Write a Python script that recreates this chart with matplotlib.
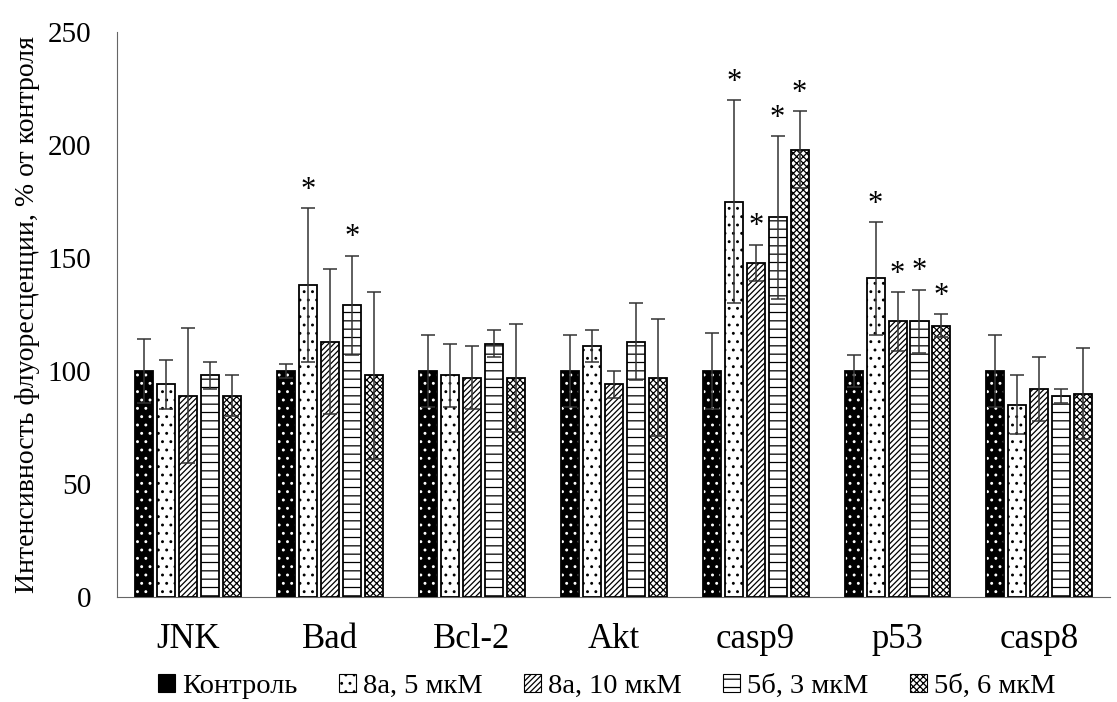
import matplotlib
matplotlib.use("Agg")
import matplotlib.pyplot as plt
import numpy as np
from matplotlib.patches import Patch

plt.rcParams['font.family'] = ['Liberation Serif', 'DejaVu Serif']
plt.rcParams['hatch.linewidth'] = 0.9

categories = ["JNK", "Bad", "Bcl-2", "Akt", "casp9", "p53", "casp8"]
series_names = ["Контроль", "8а, 5 мкМ", "8а, 10 мкМ", "5б, 3 мкМ", "5б, 6 мкМ"]

control = [100, 100, 100, 100, 100, 100, 100]
s8a_5 = [94, 138, 98, 111, 175, 141, 85]
s8a_10 = [89, 113, 97, 94, 148, 122, 92]
s5b_3 = [98, 129, 112, 113, 168, 122, 89]
s5b_6 = [89, 98, 97, 97, 198, 120, 90]

err_control = [14, 3, 16, 16, 17, 7, 16]
err_8a_5 = [11, 34, 14, 7, 45, 25, 13]
err_8a_10 = [30, 32, 14, 6, 8, 13, 14]
err_5b_3 = [6, 22, 6, 17, 36, 14, 3]
err_5b_6 = [9, 37, 24, 26, 17, 5, 20]

# significance markers (1 = asterisk)
sig_8a_5 = [0, 1, 0, 0, 1, 1, 0]
sig_8a_10 = [0, 0, 0, 0, 1, 1, 0]
sig_5b_3 = [0, 1, 0, 0, 1, 1, 0]
sig_5b_6 = [0, 0, 0, 0, 1, 1, 0]

values = [control, s8a_5, s8a_10, s5b_3, s5b_6]
errors = [err_control, err_8a_5, err_8a_10, err_5b_3, err_5b_6]
sigs = [[0] * 7, sig_8a_5, sig_8a_10, sig_5b_3, sig_5b_6]

styles = [
    dict(face='black', hatchcol='white', hatch='..'),
    dict(face='white', hatchcol='black', hatch='..'),
    dict(face='white', hatchcol='black', hatch='//////'),
    dict(face='white', hatchcol='black', hatch='--'),
    dict(face='white', hatchcol='black', hatch='xxxxx'),
]

fig = plt.figure(figsize=(11.17, 7.02), dpi=100)
ax = fig.add_axes([0.105, 0.150, 0.889, 0.804])

x = np.arange(len(categories))
width = 0.127
pitch = 0.155
for i, (vals, errs, sg, st) in enumerate(zip(values, errors, sigs, styles)):
    pos = x + (i - 2) * pitch
    ax.bar(pos, vals, width, color=st['face'], edgecolor=st['hatchcol'],
           hatch=st['hatch'], linewidth=0, zorder=2)
    ax.bar(pos, vals, width, fill=False, edgecolor='black', linewidth=1.3, zorder=3)
    ax.errorbar(pos, vals, yerr=errs, fmt='none', ecolor='#333333',
                elinewidth=1.1, capsize=5, capthick=1.1, zorder=4)
    for p, v, e, s in zip(pos, vals, errs, sg):
        if s:
            ax.text(p, v + e + 1.5, '*', ha='center', va='bottom', fontsize=22, zorder=5)

ax.set_xlim(-0.5, len(categories) - 0.5)
ax.set_ylim(0, 250)
ax.set_yticks([0, 50, 100, 150, 200, 250])
ax.set_xticks(x)
ax.set_xticklabels(categories, fontsize=25)
ax.tick_params(axis='y', labelsize=21, length=0, pad=19)
ax.tick_params(axis='x', length=0, pad=19)
ax.spines['top'].set_visible(False)
ax.spines['right'].set_visible(False)
ax.spines['left'].set_color('#666666')
ax.spines['bottom'].set_color('#666666')
ax.set_ylabel('Интенсивность флуоресценции, % от контроля', fontsize=20, labelpad=5)

handles = [Patch(facecolor=st['face'], edgecolor='black', hatch=st['hatch'], linewidth=0.8)
           for st in styles]
leg = ax.legend(handles, series_names, loc='center', bbox_to_anchor=(0.493, -0.159),
                ncol=5, frameon=False, fontsize=20.5, handlelength=0.6, handleheight=0.6,
                handletextpad=0.25, columnspacing=1.45, borderpad=0)

fig.savefig('out.png', dpi=100)
